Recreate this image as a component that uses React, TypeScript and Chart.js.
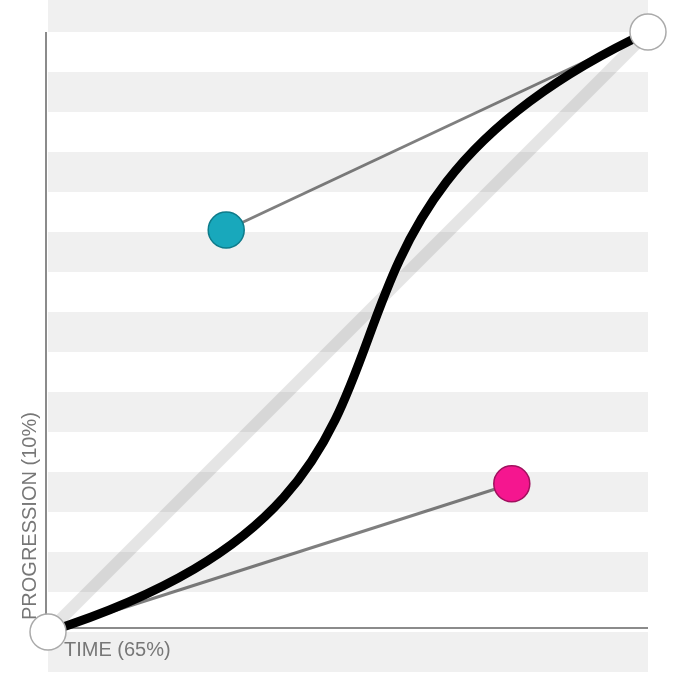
import React, { useEffect, useRef } from "react";
import { Chart, registerables } from "chart.js";
Chart.register(...registerables);

const startPoint = { x: 0, y: 0 };
const endPoint = { x: 1, y: 1 };
const control1 = { x: 0.773, y: 0.247 };
const control2 = { x: 0.297, y: 0.67 };
const xLabel = "TIME (65%)";
const yLabel = "PROGRESSION (10%)";
const stripeCount = 18;

export default function App() {
  const ref = useRef<HTMLCanvasElement>(null);
  useEffect(() => {
    const plugin = {
      id: "bez",
      beforeDatasetsDraw(chart: any) {
        const ctx = chart.ctx;
        const xs = chart.scales.x, ys = chart.scales.y;
        const left = xs.getPixelForValue(0), right = xs.getPixelForValue(1);
        const top = ys.getPixelForValue(1), bottom = ys.getPixelForValue(0);
        const band = (bottom - top) / 15;
        ctx.save();
        ctx.fillStyle = "#f0f0f0";
        for (let i = -1; i < stripeCount; i++) {
          const y = top + band * (2 * i + 1);
          ctx.fillRect(left, y, right - left, band);
        }
        ctx.strokeStyle = "#666";
        ctx.lineWidth = 1.5;
        ctx.beginPath();
        ctx.moveTo(left - 2, top);
        ctx.lineTo(left - 2, bottom - 4);
        ctx.lineTo(right, bottom - 4);
        ctx.stroke();
        ctx.fillStyle = "#777";
        ctx.font = "20px 'Liberation Sans', Arial, sans-serif";
        ctx.textBaseline = "middle";
        ctx.fillText(xLabel, left + 16, bottom + 18);
        ctx.translate(left - 18, bottom - 12);
        ctx.rotate(-Math.PI / 2);
        ctx.fillText(yLabel, 0, 0);
        ctx.restore();
      },
      afterDatasetDraw(chart: any, args: any) {
        if (args.index !== 1) return;
        const ctx = chart.ctx;
        const xs = chart.scales.x, ys = chart.scales.y;
        const p = (o: any) => [xs.getPixelForValue(o.x), ys.getPixelForValue(o.y)];
        const [a, b] = p(startPoint), [c, d] = p(control1), [e, f] = p(control2), [g, h] = p(endPoint);
        ctx.save();
        ctx.strokeStyle = "#000";
        ctx.lineWidth = 9;
        ctx.lineCap = "round";
        ctx.beginPath();
        ctx.moveTo(a, b);
        ctx.bezierCurveTo(c, d, e, f, g, h);
        ctx.stroke();
        ctx.restore();
      },
    };
    const handle = (pts: any[]) => ({
      data: pts,
      showLine: true,
      borderColor: "rgba(0,0,0,0.5)",
      borderWidth: 3,
      pointRadius: 0,
      clip: false,
    });
    const chart = new Chart(ref.current!, {
      type: "scatter",
      data: {
        datasets: [
          {
            data: [startPoint, endPoint, control1, control2],
            pointRadius: 18,
            pointHoverRadius: 18,
            pointBackgroundColor: ["#fff", "#fff", "#f5168f", "#18a8bc"],
            pointBorderColor: ["#aaa", "#aaa", "#a0105e", "#0e7b8a"],
            pointBorderWidth: 1.5,
            showLine: false,
            clip: false,
          } as any,
          handle([startPoint, control1]),
          handle([endPoint, control2]),
          {
            data: [startPoint, endPoint],
            showLine: true,
            borderColor: "rgba(0,0,0,0.1)",
            borderWidth: 12,
            pointRadius: 0,
            clip: false,
          },
        ],
      },
      options: {
        animation: false,
        responsive: false,
        layout: { padding: { left: 48, right: 32, top: 32, bottom: 48 } },
        scales: {
          x: { type: "linear", min: 0, max: 1, display: false },
          y: { type: "linear", min: 0, max: 1, display: false },
        },
        plugins: { legend: { display: false }, tooltip: { enabled: false } },
      },
      plugins: [plugin],
    });
    return () => chart.destroy();
  }, []);
  return (
    <canvas
      ref={ref}
      width={680}
      height={680}
      style={{ position: "absolute", left: 0, top: 0, width: 680, height: 680 }}
    />
  );
}
